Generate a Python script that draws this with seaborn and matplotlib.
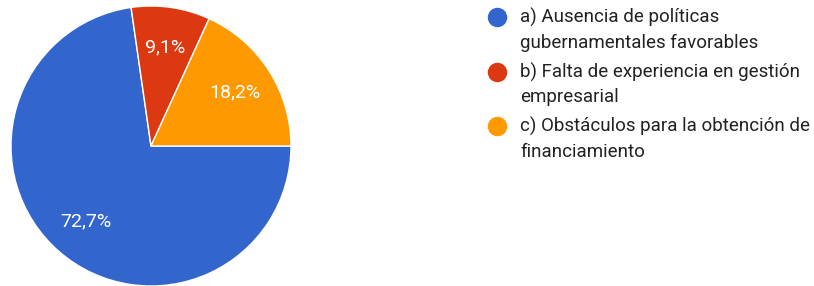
import matplotlib
matplotlib.use("Agg")
import matplotlib.pyplot as plt
import seaborn as sns
from matplotlib.lines import Line2D

# datos
categorias = [
    "a) Ausencia de políticas\ngubernamentales favorables",
    "b) Falta de experiencia en gestión\nempresarial",
    "c) Obstáculos para la obtención de\nfinanciamiento",
]
respuestas = [8, 1, 2]
colores = ["#3366cc", "#dc3912", "#ff9900"]

sns.set_style("white")
plt.rcParams["font.family"] = ["Roboto", "DejaVu Sans"]

W, H = 814, 286
fig = plt.figure(figsize=(W / 100, H / 100), dpi=100)

# pie
ax = fig.add_axes([11 / W, 0 / H, 280 / W, 280 / H])
wedges, texts, autotexts = ax.pie(
    respuestas,
    colors=colores,
    startangle=0,
    counterclock=False,
    radius=1,
    autopct=lambda p: f"{p:.1f}%".replace(".", ","),
    pctdistance=0.71,
    wedgeprops={"edgecolor": "white", "linewidth": 1},
    textprops={"color": "white", "fontsize": 14},
)
ax.set_xlim(-1.0, 1.0)
ax.set_ylim(-1.0, 1.0)
ax.set_aspect("equal")
ax.axis("off")

# leyenda
for i, (lab, col) in enumerate(zip(categorias, colores)):
    yc = 17 + 54.5 * i
    fig.add_artist(Line2D([497 / W], [1 - yc / H], marker="o", markersize=13,
                          color=col, linestyle="none", transform=fig.transFigure))
    lineas = lab.split("\n")
    for j, ln in enumerate(lineas):
        fig.text(520 / W, 1 - (yc + 6 + 25 * j) / H, ln, fontsize=13.5,
                 color="#222222", va="baseline", ha="left")

fig.savefig("out.png", dpi=100, facecolor="white")
